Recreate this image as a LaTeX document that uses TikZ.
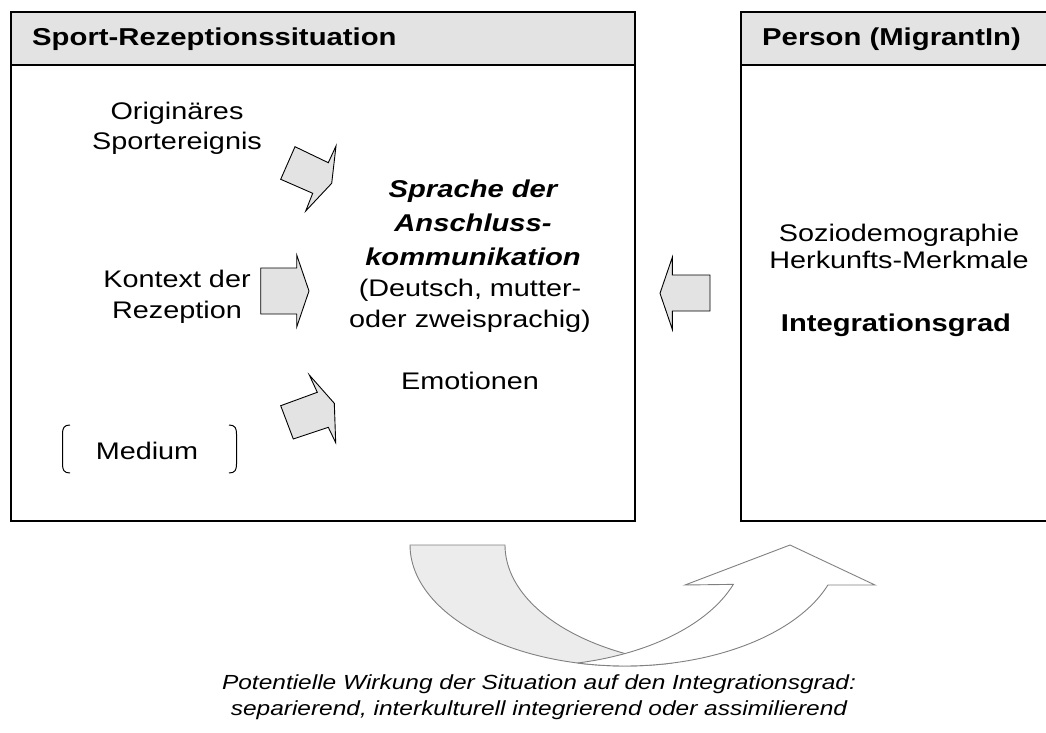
\documentclass[tikz,border=0pt]{standalone}
\usepackage{fontspec}
\setmainfont{Liberation Sans}[FakeStretch=1.2]
\begin{document}
\begin{tikzpicture}[x=1pt,y=-1pt,
  txt/.style={font=\fontsize{24}{27}\selectfont, align=center, inner sep=0pt},
  hdr/.style={font=\bfseries\fontsize{24.4}{27}\selectfont, anchor=west, inner sep=0pt},
  blockarrow/.style={draw=black, fill=gray!22, line width=0.9pt, line join=miter},
  frame/.style={draw=black, line width=1.6pt},
  headbar/.style={draw=black, fill=gray!22, line width=1.6pt},
  bracket/.style={draw=black, line width=1pt},
  curvearrow/.style={draw=gray, line width=0.9pt, line join=miter}]
\useasboundingbox (0,0) rectangle (1046,733);
\clip (0,0) rectangle (1046,733);
% frames
\draw[frame] (11,12) rectangle (635,521);
\filldraw[headbar] (11,12) rectangle (635,65);
\draw[frame] (741,12) rectangle (1060,521);
\filldraw[headbar] (741,12) rectangle (1060,65);
\node[hdr] (h1) at (32,39) {Sport-Rezeptionssituation};
\node[hdr] (h2) at (762,39) {Person (MigrantIn)};
% left texts
\node[txt, font=\fontsize{24}{30}\selectfont] (orig) at (177,128) {Originäres\\Sportereignis};
\node[txt, font=\fontsize{24}{31}\selectfont] (kont) at (177,297) {Kontext der\\Rezeption};
\node[txt] (med) at (147,451) {Medium};
\draw[bracket] (70,425) .. controls (64,425) and (62.5,428) .. (62.5,434) -- (62.5,464) .. controls (62.5,470) and (64,473) .. (70,473);
\draw[bracket] (229,425) .. controls (235,425) and (236.5,428) .. (236.5,434) -- (236.5,464) .. controls (236.5,470) and (235,473) .. (229,473);
% center texts
\node[txt, font=\bfseries\itshape\fontsize{24.3}{34}\selectfont] (spr) at (473,223) {Sprache der\\Anschluss-\\kommunikation};
\node[txt, font=\fontsize{24}{31}\selectfont] (deu) at (470,306) {(Deutsch, mutter-\\oder zweisprachig)};
\node[txt] (emo) at (470,381) {Emotionen};
% right texts
\node[txt, font=\fontsize{24}{27}\selectfont] (soz) at (899,246) {Soziodemographie\\Herkunfts-Merkmale};
\node[txt, font=\bfseries\fontsize{24.3}{27}\selectfont] (igr) at (896,325) {Integrationsgrad};
% block arrows
\draw[blockarrow] (295,146.7) -- (328.3,162.7) -- (336,146) -- (331.7,183.3) -- (305.7,211) -- (312.7,193.3) -- (280.7,179.3) -- cycle;
\draw[blockarrow] (260.7,268) -- (296.7,268) -- (296.7,255) -- (309,291) -- (296.7,327) -- (296.7,314) -- (260.7,314) -- cycle;
\draw[blockarrow] (280.7,405.7) -- (317.3,392.3) -- (309.3,375) -- (334.3,403.3) -- (335.7,442.7) -- (328.3,427.3) -- (293.3,439) -- cycle;
\draw[blockarrow] (660,293.3) -- (672.3,257.3) -- (672.3,275) -- (710,275) -- (710,311) -- (672.3,311) -- (672.3,329.3) -- cycle;
% curved arrow
\filldraw[curvearrow, fill=gray!15] plot[domain=180:77.24, samples=60, variable=\t] ({625+215*cos(\t)},{545+121*sin(\t)})
  -- plot[domain=102.76:180, samples=60, variable=\t] ({720+215*cos(\t)},{545+121*sin(\t)}) -- cycle;
\filldraw[curvearrow, fill=white] plot[domain=102.76:19.3, samples=60, variable=\t] ({625+215*cos(\t)},{545+121*sin(\t)})
  -- (875,585) -- (790,545) -- (685,585)
  -- plot[domain=18.98:77.24, samples=60, variable=\t] ({530+215*cos(\t)},{545+121*sin(\t)}) -- cycle;
% bottom text
\node[txt, font=\itshape\fontsize{20.4}{26}\selectfont] (cap) at (539,697) {Potentielle Wirkung der Situation auf den Integrationsgrad:\\ separierend, interkulturell integrierend oder assimilierend};
\end{tikzpicture}
\end{document}
